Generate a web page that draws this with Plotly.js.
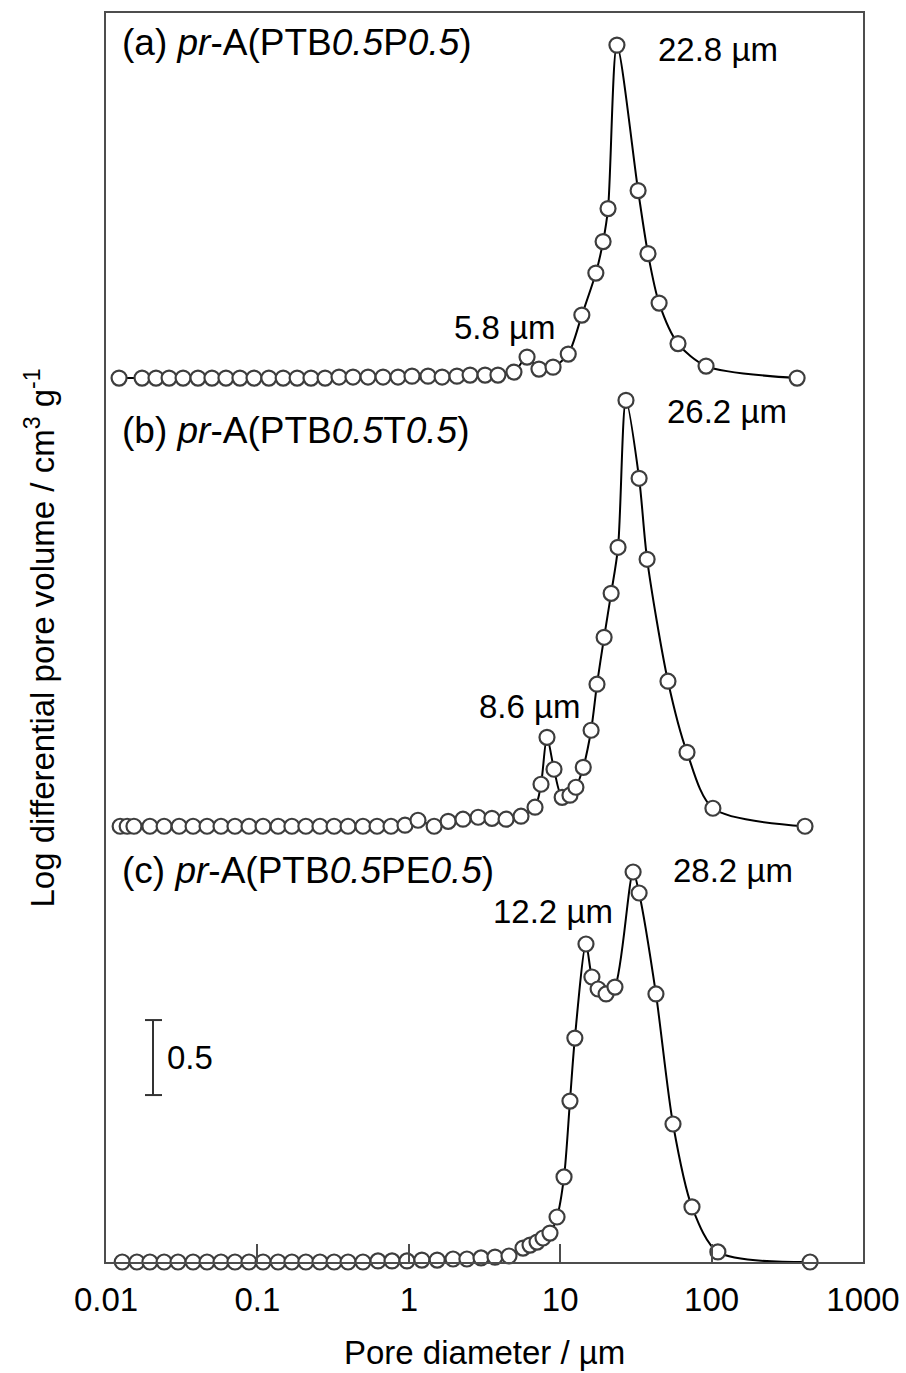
<!DOCTYPE html>
<html>
<head>
<meta charset="utf-8">
<script src="https://cdn.plot.ly/plotly-3.0.1.min.js"></script>
<style>html,body{margin:0;padding:0;background:#fff;}#chart{width:906px;height:1373px;}</style>
</head>
<body>
<div id="chart"></div>
<script>
// Pore diameter (µm) and log differential pore volume (cm3/g), relative to each curve's baseline
const a_x = [0.0122,0.0173,0.0214,0.0261,0.0323,0.0405,0.0501,0.0620,0.0767,0.0950,0.119,0.148,0.183,0.226,0.280,0.346,0.428,0.538,0.676,0.849,1.05,1.34,1.66,2.08,2.54,3.19,3.88,4.95,6.04,7.24,8.97,11.3,13.9,17.2,19.2,20.7,23.7,32.7,38.0,45.0,60.0,91.9,367];
const a_y = [0,0,0,0,0,0,0,0,0,0,0,0,0,0,0,0.007,0.007,0.007,0.007,0.007,0.013,0.013,0.007,0.013,0.02,0.02,0.02,0.04,0.14,0.06,0.073,0.16,0.42,0.70,0.91,1.13,2.22,1.25,0.83,0.50,0.23,0.08,0];

const b_x = [0.0124,0.0138,0.0153,0.0195,0.0242,0.0304,0.0376,0.0465,0.0575,0.0711,0.0880,0.109,0.137,0.169,0.209,0.259,0.321,0.397,0.498,0.617,0.763,0.944,1.15,1.47,1.82,2.28,2.87,3.54,4.39,5.51,6.82,7.47,8.18,9.10,10.3,11.6,12.7,14.2,16.0,17.5,19.5,21.7,24.1,27.2,33.2,37.5,51.5,68.8,102,414];
const b_y = [0,0,0,0,0,0,0,0,0,0,0,0,0,0,0,0,0,0,0,0,0,0.007,0.04,0,0.033,0.047,0.06,0.053,0.047,0.067,0.127,0.28,0.593,0.38,0.193,0.207,0.26,0.393,0.64,0.947,1.26,1.553,1.86,2.84,2.32,1.78,0.967,0.493,0.12,0];

const c_x = [0.0128,0.0160,0.0195,0.0242,0.0299,0.0376,0.0465,0.0575,0.0711,0.0880,0.109,0.137,0.169,0.209,0.259,0.321,0.397,0.498,0.626,0.775,0.973,1.22,1.54,1.96,2.42,3.00,3.71,4.59,5.68,6.32,7.03,7.70,8.56,9.53,10.6,11.6,12.5,14.8,16.2,17.8,20.1,23.0,30.3,33.2,42.9,55.6,74.2,110,447];
const c_y = [0,0,0,0,0,0,0,0,0,0,0,0,0,0,0,0,0,0,0.007,0.007,0.007,0.013,0.013,0.02,0.02,0.027,0.033,0.04,0.093,0.113,0.133,0.16,0.193,0.30,0.567,1.073,1.493,2.12,1.90,1.82,1.787,1.833,2.60,2.46,1.787,0.92,0.367,0.067,0];

const offsets = [5.893, 2.905, 0];   // vertical shift of curves (a), (b), (c)
const panelLabels = ['(a) <i>pr</i>-A(PTB<i>0.5</i>P<i>0.5</i>)', '(b) <i>pr</i>-A(PTB<i>0.5</i>T<i>0.5</i>)', '(c) <i>pr</i>-A(PTB<i>0.5</i>PE<i>0.5</i>)'];
const peakLabels = ['22.8 µm', '5.8 µm', '26.2 µm', '8.6 µm', '28.2 µm', '12.2 µm'];
const tickVals = [0.01, 0.1, 1, 10, 100, 1000];
const tickText = ['0.01', '0.1', '1', '10', '100', '1000'];
const scaleBar = 0.5;
const scaleBarBase = 1.113;

const FONT = 'Liberation Sans, Arial, Helvetica, sans-serif';
const series = [[a_x, a_y], [b_x, b_y], [c_x, c_y]];

const traces = series.map((s, i) => ({
  x: s[0],
  y: s[1].map(v => v + offsets[i]),
  type: 'scatter',
  mode: 'lines+markers',
  cliponaxis: false,
  line: {color: '#000', width: 2, shape: 'spline', smoothing: 0.8},
  marker: {symbol: 'circle', size: 15, color: '#fff', line: {color: '#3d3d3d', width: 2.2}},
  hoverinfo: 'skip'
}));

const txt = (text, x, y, opts) => Object.assign({
  text: text, x: x, y: y, xref: 'paper', yref: 'paper', showarrow: false,
  xanchor: 'left', yanchor: 'middle', font: {family: FONT, size: 33, color: '#000'}
}, opts || {});

const PF = {family: FONT, size: 37, color: '#000'};
const annotations = [
  txt(panelLabels[0], 0.0185, 0.9760, {font: PF}),
  txt(panelLabels[1], 0.0185, 0.6660, {font: PF}),
  txt(panelLabels[2], 0.0185, 0.3138, {font: PF}),
  txt(peakLabels[0], 0.7265, 0.9704),
  txt(peakLabels[1], 0.4570, 0.7478),
  txt(peakLabels[2], 0.7385, 0.6813),
  txt(peakLabels[3], 0.4900, 0.4444),
  txt(peakLabels[4], 0.7463, 0.3131),
  txt(peakLabels[5], 0.5090, 0.2810),
  txt(String(scaleBar), 0.078, scaleBarBase + scaleBar / 2, {yref: 'y'}),
  txt('Log differential pore volume / cm<sup>3</sup> g<sup>-1</sup>', -0.0872, 0.5, {xanchor: 'center', textangle: -90}),
  txt('Pore diameter / µm', 0.5, -0.0721, {xanchor: 'center'})
];

const barColor = '#333';
const shapes = [
  {type: 'line', xref: 'paper', yref: 'y', x0: 0.0621, x1: 0.0621, y0: scaleBarBase, y1: scaleBarBase + scaleBar, line: {color: barColor, width: 2}},
  {type: 'line', xref: 'paper', yref: 'y', x0: 0.0515, x1: 0.074, y0: scaleBarBase, y1: scaleBarBase, line: {color: barColor, width: 2}},
  {type: 'line', xref: 'paper', yref: 'y', x0: 0.0515, x1: 0.074, y0: scaleBarBase + scaleBar, y1: scaleBarBase + scaleBar, line: {color: barColor, width: 2}}
];

const layout = {
  width: 906, height: 1373,
  margin: {l: 106, r: 43, t: 13, b: 111, pad: 0},
  paper_bgcolor: '#fff', plot_bgcolor: '#fff',
  showlegend: false,
  font: {family: FONT, size: 33, color: '#000'},
  xaxis: {
    type: 'log', range: [-2, 3], showgrid: false, zeroline: false,
    showline: true, mirror: true, linecolor: '#4d4d4d', linewidth: 2,
    ticks: 'inside', ticklen: 18, tickwidth: 2, tickcolor: '#4d4d4d',
    tickmode: 'array', tickvals: tickVals, ticktext: tickText,
    ticklabelstandoff: 7,
    tickfont: {family: FONT, size: 33, color: '#000'}
  },
  yaxis: {
    range: [0, 8.327], showgrid: false, zeroline: false,
    showline: true, mirror: true, linecolor: '#4d4d4d', linewidth: 2,
    ticks: '', showticklabels: false
  },
  annotations: annotations,
  shapes: shapes
};

Plotly.newPlot('chart', traces, layout, {staticPlot: true, displayModeBar: false});
</script>
</body>
</html>
